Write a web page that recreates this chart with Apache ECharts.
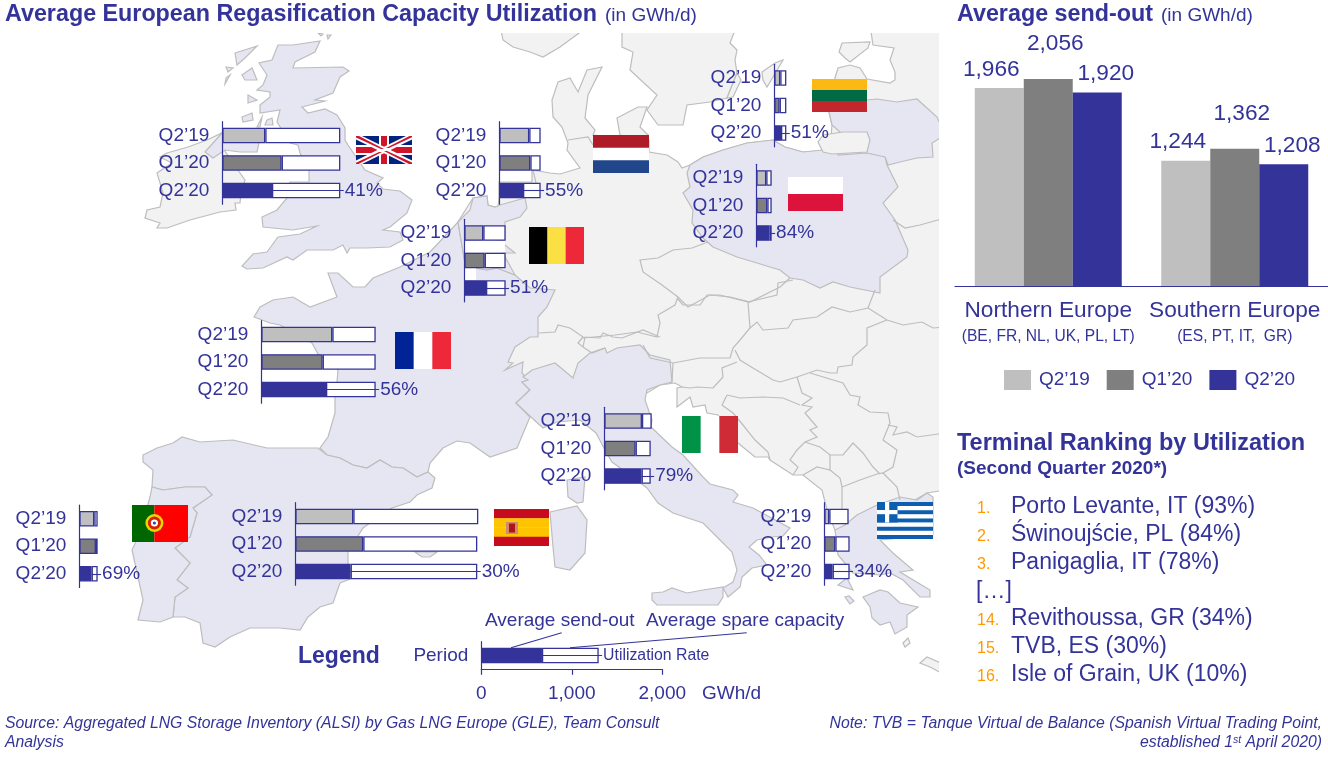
<!DOCTYPE html>
<html>
<head>
<meta charset="utf-8">
<title>Average European Regasification Capacity Utilization</title>
<script src="https://cdn.jsdelivr.net/npm/echarts@6/dist/echarts.min.js"></script>
<style>
html,body{margin:0;padding:0;background:#fff;}
#chart{width:1328px;height:759px;}
</style>
</head>
<body>
<div id="chart"></div>
<script>
// values, GWh/d
const quarters = ['Q2’19', 'Q1’20', 'Q2’20'];
const sendUK = [475, 656, 549], spareUK = [829, 648, 755];
const sendNL = [331, 343, 262], spareNL = [126, 114, 195];
const sendBE = [210, 225, 240], spareBE = [247, 232, 217];
const sendFR = [785, 678, 715], spareFR = [479, 586, 549];
const sendLT = [66, 59, 74], spareLT = [67, 74, 59];
const sendPL = [110, 122, 147], sparePL = [60, 48, 23];
const sendIT = [416, 346, 412], spareIT = [108, 167, 101];
const sendES = [641, 751, 611], spareES = [1381, 1260, 1400];
const sendPT = [166, 184, 136], sparePT = [37, 19, 67];
const sendGR = [55, 122, 92], spareGR = [214, 158, 188];
const sendKey = [670], spareKey = [627];
const keyTicks = [0, 1000, 2000];

const regions = ['Northern Europe', 'Southern Europe'];
const regionMembers = ['(BE, FR, NL, UK, PL, LT)', '(ES, PT, IT,  GR)'];
const sendQ219 = [1966, 1244];
const sendQ120 = [2056, 1362];
const sendQ220 = [1920, 1208];

const rankNumbers = ['1.', '2.', '3.', '14.', '15.', '16.'];
const rankNames = ['Porto Levante, IT (93%)', 'Świnoujście, PL (84%)', 'Panigaglia, IT (78%)',
    'Revithoussa, GR (34%)', 'TVB, ES (30%)', 'Isle of Grain, UK (10%)'];

const BLUE = '#333399', LIGHT = '#BFBFBF', MID = '#7F7F7F', ORANGE = '#FF9900';
const quarterColors = [LIGHT, MID, BLUE];
const FONT = '"Liberation Sans", Arial, sans-serif';
const PANEL_HEIGHT = 82.5, PANEL_WIDTH = 2100 * 0.0905;

const panels = [
    {id: 'UK', send: sendUK, spare: spareUK, rate: 41, left: 222.3, top: 121.7},
    {id: 'NL', send: sendNL, spare: spareNL, rate: 55, left: 499.3, top: 121.7},
    {id: 'BE', send: sendBE, spare: spareBE, rate: 51, left: 464.3, top: 219.3},
    {id: 'FR', send: sendFR, spare: spareFR, rate: 56, left: 261.3, top: 320.7},
    {id: 'LT', send: sendLT, spare: spareLT, rate: 51, left: 774.3, top: 64.3},
    {id: 'PL', send: sendPL, spare: sparePL, rate: 84, left: 756.3, top: 164.3},
    {id: 'IT', send: sendIT, spare: spareIT, rate: 79, left: 604.3, top: 407.3},
    {id: 'ES', send: sendES, spare: spareES, rate: 30, left: 295.3, top: 502.7},
    {id: 'PT', send: sendPT, spare: sparePT, rate: 69, left: 79.3, top: 505},
    {id: 'GR', send: sendGR, spare: spareGR, rate: 34, left: 824.3, top: 502.7}
];

// background map outlines, traced in page pixels
const GREY = '#F2F2F2', LAV = '#E6E6F2';
const landGrey = [
    '499,198 499,182 532,182 532,170 550,173 560,174 580,168 567,150 568,143 562,127 553,117 552,100 558,82 570,78 578,92 587,70 602,67 588,95 585,118 595,130 593,135 649,140 649,152 667,155 678,162 682,168 690,165 703,157 723,150 747,143 773,140 785,147 803,152 830,150 832,125 829,112 835,78 838,68 850,65 860,68 867,79 890,83 895,80 895,72 890,60 894,48 873,45 870,25 945,25 945,490 927,493 880,520 835,530 827,510 822,490 803,475 793,475 770,460 768,457 755,457 738,443 718,415 707,413 705,405 693,407 690,397 677,407 677,388 682,387 675,383 660,385 647,393 500,400 458,300 458,222 473,198 487,196 488,205 495,207 498,207',
    '500,25 503,40 513,47 530,52 543,57 560,47 590,25',
    '622,25 622,47 633,52 630,70 657,95 647,110 658,125 683,125 687,105 710,102 727,98 737,73 735,60 737,50 730,43 737,25',
    '762,72 775,63 783,60 773,77 767,87 763,80',
    '727,98 737,73 741,80 733,97',
    '839,52 842,43 870,42 868,48 850,62 845,58',
    '617,118 638,107 647,107 640,127 648,135 640,140 620,135',
    '188,147 207,140 222,133 225,151 240,173 245,180 241,193 240,203 235,203 236,210 220,212 190,220 167,228 157,228 160,223 145,218 147,210 160,207 163,193 157,173 172,163 160,157 167,153',
    '920,663 927,657 945,665 945,675 930,667',
    '903,643 908,638 910,643 905,647'
];
const landFocus = [
    '278,45 293,45 320,41 315,52 295,62 293,68 343,67 349,71 340,77 333,93 315,100 325,101 302,107 308,113 325,109 337,115 345,128 345,140 348,145 365,170 383,178 377,183 383,189 400,191 412,200 407,213 390,227 383,230 400,232 403,240 390,247 367,248 350,248 347,253 343,245 333,250 307,250 293,260 287,257 263,268 247,269 242,266 253,254 267,252 278,237 300,234 317,226 293,230 263,227 262,217 277,210 287,198 290,182 309,182 309,170 300,153 298,145 290,143 277,122 280,110 260,113 260,105 270,97 270,92 257,90 263,85 267,75 259,63 272,60',
    '318,33 323,34 321,36', '327,35 331,35 328,39',
    '205,152 222,133 259,143 257,152 240,152 225,150 213,158',
    '235,53 257,46 245,58 237,65',
    '226,67 233,68 228,72', '225,84 230,75 226,78',
    '242,75 252,68 257,80 245,80', '248,95 257,100 248,103',
    '242,117 252,113 253,120 243,122', '257,127 262,117 260,127', '267,120 272,118 273,125 265,125',
    '254,317 260,307 273,300 293,297 310,307 337,297 328,273 338,273 353,287 365,287 373,278 400,267 430,252 458,222 465,263 475,268 487,270 497,268 515,275 522,281 530,288 555,290 547,307 538,317 538,337 530,337 515,347 508,362 513,363 505,370 523,362 522,373 528,380 522,382 530,390 516,403 530,417 517,448 490,457 470,443 457,441 443,448 430,463 428,472 417,477 403,468 392,467 380,460 367,468 353,465 340,458 327,455 320,448 328,437 335,413 335,398 337,382 338,370 318,354 312,343 280,325 270,323',
    '458,222 470,210 473,198 487,196 488,205 495,207 500,205 525,198 527,208 520,217 505,222 505,240 498,241 505,245 515,253 503,253 515,275 497,268 487,270 475,268 465,263',
    '143,455 157,448 173,443 182,437 200,442 233,440 267,448 318,448 327,455 340,458 353,465 367,468 380,460 392,467 403,468 417,477 428,472 435,478 432,488 417,495 410,502 392,508 370,523 363,528 348,552 348,563 353,578 340,583 333,603 320,607 308,617 300,630 280,628 250,628 230,637 215,647 203,643 200,623 185,617 173,617 175,597 188,588 177,580 190,563 175,548 190,537 197,513 193,508 212,495 205,487 185,487 163,490 152,487 153,470 143,462',
    '152,487 163,490 185,487 205,487 212,495 193,508 197,513 190,537 175,548 190,563 177,580 188,588 175,597 173,617 160,622 138,620 143,600 138,577 132,550 140,533 150,497',
    '415,552 437,552 430,557 422,557',
    '567,480 585,477 583,502 577,503 568,497',
    '550,512 577,506 587,520 585,553 570,570 555,567 553,547',
    '516,403 530,390 522,382 528,380 523,377 532,370 555,363 573,378 578,363 590,353 605,348 607,353 617,348 640,345 650,355 670,360 672,382 660,385 647,390 645,400 652,420 651,427 672,447 683,455 703,477 710,484 733,490 738,495 733,502 753,508 790,528 783,536 772,537 757,540 749,547 759,555 767,565 752,568 742,577 740,587 728,597 723,588 733,582 737,570 732,552 717,537 703,523 673,513 658,503 647,488 630,475 612,462 605,450 596,433 580,420 557,422 543,428 532,418',
    '652,593 663,592 672,588 687,593 703,590 723,587 723,597 718,605 657,605 652,600',
    '690,165 703,157 723,150 747,143 773,140 785,147 803,152 823,150 867,153 885,156 887,165 898,187 883,203 895,220 908,250 907,257 880,277 880,293 850,287 833,282 820,288 803,280 790,278 780,270 770,267 757,263 737,257 713,247 703,238 692,223 693,210 683,193 690,187 687,173',
    '829,100 867,100 877,99 897,102 917,99 937,117 945,135 932,143 933,157 917,158 900,162 888,165 885,157 867,153 838,155 840,132 832,125 829,112',
    '857,515 877,505 900,497 917,500 927,493 933,497 933,535 880,540 893,553 913,570 900,572 930,590 930,597 920,597 903,580 890,573 880,575 853,573 838,555 835,530 845,525',
    '838,585 847,578 853,590', '845,597 849,596 854,601 850,604',
    '863,597 880,590 888,592 900,603 918,607 907,615 907,627 895,634 890,622 880,625 872,618 870,607'
];
const kaliningrad = ['818,142 823,135 843,132 867,132 870,140 867,152 832,154 823,152'];
const borders = [
    '533,170 536,183 530,190 525,198',
    '568,140 588,137 593,145',
    '708,242 692,248 673,250 658,258 640,260 643,272 662,285 678,297 688,307 710,295 730,297 750,302 780,287 790,278',
    '678,297 675,305 658,315 660,323 657,337 637,332 615,335 583,338',
    '539,333 555,332 558,325 570,328 583,337 600,338 603,333 613,337 622,338 643,330 660,337',
    '583,337 578,343 583,347 585,337', '583,347 592,353 605,348',
    '677,298 683,305 700,305 707,295 720,295 748,302 750,328 740,340 733,348 730,358 700,358 673,363 650,358 643,345',
    '748,302 777,295 778,283 793,280', '750,328 757,322 763,330 788,328 793,320 817,317 832,307 850,312 868,308 875,290',
    '868,308 887,320 903,325 922,322 933,328 945,327',
    '893,220 905,228 920,225 945,218',
    '887,320 867,328 867,345 853,357 852,365 838,367 837,373 830,373 817,370 797,377 780,382 773,380 753,368 740,360 735,350',
    '737,362 722,368 723,377 713,388 697,387 690,388 682,387', '673,363 672,382',
    '797,377 802,393 812,398 802,405 812,407 805,413 817,427 810,430 817,437 805,442 797,450 790,460 798,467 793,475',
    '727,395 722,405 733,413 743,425 755,440 768,452 770,460', '727,395 740,398 763,397 783,398 800,405',
    '805,442 820,447 830,455 843,455 853,443 863,453 873,467 880,474', '830,455 830,470 817,467 803,475',
    '830,470 840,478 842,487 860,480 877,474 883,473 897,487 900,500', '842,487 842,510 845,525',
    '810,373 843,383 850,395 860,397 858,405 870,412 888,413 890,423 883,440 897,450 893,467 883,473',
    '888,425 897,427 893,435 907,432 917,437 945,433'
];
// crops the map at its frame and the white patch behind the Belgian bars
const whiteBoxes = [[0, 0, 960, 33], [939, 0, 30, 700], [464, 241, 41, 11], [464, 268, 12, 12]];

function mapSvg() {
    const stroke = ' stroke="#BDBDBD" stroke-width="1.2"';
    let s = '<svg xmlns="http://www.w3.org/2000/svg" width="1328" height="759" viewBox="0 0 1328 759">';
    landGrey.forEach(p => { s += '<polygon fill="' + GREY + '"' + stroke + ' points="' + p + '"/>'; });
    landFocus.forEach(p => { s += '<polygon fill="' + LAV + '"' + stroke + ' points="' + p + '"/>'; });
    kaliningrad.forEach(p => { s += '<polygon fill="' + GREY + '"' + stroke + ' points="' + p + '"/>'; });
    borders.forEach(p => { s += '<polyline fill="none"' + stroke + ' points="' + p + '"/>'; });
    whiteBoxes.forEach(b => { s += '<rect fill="#FFFFFF" x="' + b[0] + '" y="' + b[1] + '" width="' + b[2] + '" height="' + b[3] + '"/>'; });
    return s + '</svg>';
}
echarts.registerMap('europe', {svg: mapSvg()});

const grids = [], xAxes = [], yAxes = [], series = [];

function barPanel(name, cats, send, spare, rateText, left, top, width, height, max, showX, labelSize) {
    const idx = grids.length;
    grids.push({left: left, top: top, width: width, height: height, containLabel: false});
    xAxes.push({
        type: 'value', gridIndex: idx, min: 0, max: max, show: showX, interval: showX ? keyTicks[1] : undefined,
        splitLine: {show: false}, z: 5,
        axisLine: {show: true, lineStyle: {color: BLUE, width: 1.2}},
        axisTick: {show: true, inside: false, length: 5.5, lineStyle: {color: BLUE, width: 1.2}},
        axisLabel: {show: true, color: BLUE, fontFamily: FONT, fontSize: 19, margin: 15,
            formatter: v => v.toLocaleString('en-US')}
    });
    yAxes.push({
        type: 'category', gridIndex: idx, data: cats, inverse: true, z: 5,
        axisLine: {show: true, lineStyle: {color: BLUE, width: 1.2}},
        axisTick: {show: false},
        axisLabel: {color: BLUE, fontFamily: FONT, fontSize: 19, margin: 13, interval: 0, padding: [2, 0, 0, 0]}
    });
    const last = cats.length - 1;
    series.push({
        name: name + ' send-out', type: 'bar', stack: name, xAxisIndex: idx, yAxisIndex: idx, barWidth: 15.5,
        itemStyle: {borderColor: BLUE, borderWidth: 1.3},
        data: send.map((v, i) => ({value: v, itemStyle: {color: cats.length > 1 ? quarterColors[i] : BLUE}}))
    });
    series.push({
        name: name + ' spare', type: 'bar', stack: name, xAxisIndex: idx, yAxisIndex: idx, barWidth: 15.5,
        itemStyle: {color: '#FFFFFF', borderColor: BLUE, borderWidth: 1.3},
        data: spare,
        markLine: {
            silent: true, symbol: 'none', animation: false,
            lineStyle: {color: BLUE, width: 1.1, type: 'solid'},
            label: {show: true, position: 'end', distance: 1, formatter: rateText, color: BLUE,
                fontFamily: FONT, fontSize: labelSize, padding: [2, 0, 0, 0]},
            emphasis: {disabled: true},
            data: [[{coord: [send[last], cats[last]]}, {coord: [send[last] + spare[last] + 38, cats[last]]}]]
        }
    });
}

panels.forEach(p => barPanel(p.id, quarters, p.send, p.spare, p.rate + '%', p.left, p.top, PANEL_WIDTH, PANEL_HEIGHT, 2100, false, 19));
barPanel('Key', ['Period'], sendKey, spareKey, 'Utilization Rate', 481.3, 641.7, 181, 27.6, 2000, true, 15.8);

// regional send-out columns
const colIdx = grids.length;
grids.push({left: 955, top: 34.2, width: 374, height: 251.8});
xAxes.push({
    type: 'category', gridIndex: colIdx, data: regions,
    axisLine: {lineStyle: {color: BLUE, width: 1.2}}, axisTick: {show: false},
    axisLabel: {
        interval: 0, margin: 12,
        formatter: (v, i) => '{a|' + v + '}\n{b|' + regionMembers[i] + '}',
        rich: {
            a: {color: BLUE, fontFamily: FONT, fontSize: 22.67, lineHeight: 26},
            b: {color: BLUE, fontFamily: FONT, fontSize: 15.6, lineHeight: 26}
        }
    }
});
yAxes.push({type: 'value', gridIndex: colIdx, min: 0, max: 2500, show: false, splitLine: {show: false}});
[[quarters[0], sendQ219, [-8, 0]], [quarters[1], sendQ120, [7, -17]], [quarters[2], sendQ220, [8.5, 0]]].forEach((c, i) => {
    series.push({
        name: c[0], type: 'bar', xAxisIndex: colIdx, yAxisIndex: colIdx, barWidth: 49, barGap: 0,
        itemStyle: {color: quarterColors[i]}, data: c[1],
        label: {show: true, position: 'top', distance: 7, offset: c[2], color: BLUE, fontFamily: FONT, fontSize: 22.67,
            formatter: p => p.value.toLocaleString('en-US')}
    });
});

// drawing helpers for text and flags
const gfx = [];
function txt(x, y, text, size, opt) {
    opt = opt || {};
    gfx.push({
        type: 'text', z: 10, silent: true,
        style: {
            x: x, y: y + 2, text: text, fill: opt.color || BLUE,
            font: (opt.italic ? 'italic ' : '') + (opt.bold ? 'bold ' : '') + size + 'px ' + FONT,
            textAlign: opt.align || 'left', textVerticalAlign: 'middle', rich: opt.rich
        }
    });
}
function box(x, y, w, h, fill) {
    gfx.push({type: 'rect', z: 8, silent: true, shape: {x: x, y: y, width: w, height: h}, style: {fill: fill}});
}
function poly(points, fill) {
    gfx.push({type: 'polygon', z: 9, silent: true, shape: {points: points}, style: {fill: fill}});
}
function line(x1, y1, x2, y2) {
    gfx.push({type: 'line', z: 9, silent: true, shape: {x1: x1, y1: y1, x2: x2, y2: y2}, style: {stroke: BLUE, lineWidth: 1.1}});
}
function disc(cx, cy, r, fill) {
    gfx.push({type: 'circle', z: 9, silent: true, shape: {cx: cx, cy: cy, r: r}, style: {fill: fill}});
}
function vFlag(x, y, w, h, cols) {
    cols.forEach((c, i) => box(x + i * w / cols.length, y, w / cols.length + (i < cols.length - 1 ? 0.3 : 0), h, c));
}
function hFlag(x, y, w, h, cols) {
    cols.forEach((c, i) => box(x, y + i * h / cols.length, w, h / cols.length + (i < cols.length - 1 ? 0.3 : 0), c));
}

vFlag(395, 332, 56, 37, ['#002395', '#FFFFFF', '#ED2939']);
vFlag(529, 227, 55, 37, ['#000000', '#FAE042', '#ED2939']);
vFlag(682, 416, 56, 37, ['#009246', '#FFFFFF', '#CE2B37']);
hFlag(593, 135, 56, 38, ['#AE1C28', '#FFFFFF', '#21468B']);
hFlag(812, 79, 55, 33, ['#FDB913', '#006A44', '#C1272D']);
hFlag(788, 177, 55, 34, ['#FFFFFF', '#DC143C']);

// Spain
hFlag(494, 509, 55, 37, ['#C60B1E', '#FFC400', '#FFC400', '#C60B1E']);
box(506, 522, 12, 12, '#D08A70');
box(509, 523.5, 6, 9, '#AD1519');
// Portugal
box(132, 505, 22.4, 37, '#006600');
box(154.4, 505, 33.6, 37, '#FF0000');
disc(154.4, 523, 9, '#E8D800');
disc(154.4, 523, 6.5, '#D81E05');
disc(154.4, 523, 3.6, '#FFFFFF');
disc(154.4, 523, 1.6, '#2A4FA8');
// Greece
hFlag(877, 502, 56, 37, ['#0D5EAF', '#FFFFFF', '#0D5EAF', '#FFFFFF', '#0D5EAF', '#FFFFFF', '#0D5EAF', '#FFFFFF', '#0D5EAF']);
box(877, 502, 20.5, 20.5, '#0D5EAF');
box(885, 502, 4.2, 20.5, '#FFFFFF');
box(877, 510, 20.5, 4.2, '#FFFFFF');
// Union Jack
box(356, 136, 56, 28, '#00247D');
poly([[356, 136], [362, 136], [412, 160.5], [412, 164], [406, 164], [356, 139.5]], '#FFFFFF');
poly([[412, 136], [406, 136], [356, 160.5], [356, 164], [362, 164], [412, 139.5]], '#FFFFFF');
poly([[356, 136], [359, 136], [384, 149], [381, 149], [356, 137.6]], '#CF142B');
poly([[412, 164], [409, 164], [384, 151], [387, 151], [412, 162.4]], '#CF142B');
poly([[412, 136], [409.5, 136], [386, 148], [389, 148], [412, 137.3]], '#CF142B');
poly([[356, 164], [358.5, 164], [382, 152], [379, 152], [356, 162.7]], '#CF142B');
box(356, 145, 56, 10, '#FFFFFF');
box(379, 136, 10, 28, '#FFFFFF');
box(356, 147, 56, 6, '#CF142B');
box(381, 136, 6, 28, '#CF142B');

// key leader lines
line(561.7, 632.7, 511, 647.7);
line(746.7, 632.7, 570, 647.7);

txt(5, 13, 'Average European Regasification Capacity Utilization', 23.3, {bold: true});
txt(605, 14, '(in GWh/d)', 19);
txt(957, 13, 'Average send-out', 23.3, {bold: true});
txt(1161, 14, '(in GWh/d)', 19);
txt(957, 442, 'Terminal Ranking by Utilization', 23.5, {bold: true});
txt(957, 467, '(Second Quarter 2020*)', 19, {bold: true});
txt(298, 655, 'Legend', 23, {bold: true});
txt(485, 619, 'Average send-out', 19);
txt(646, 619, 'Average spare capacity', 19);
txt(702, 692, 'GWh/d', 19);

const rankY = [505, 533, 561, 617, 645, 673];
rankNumbers.forEach((n, i) => {
    txt(977, rankY[i] + 2, n, 16, {color: ORANGE});
    txt(1011, rankY[i], rankNames[i], 23);
});
txt(976, 590, '[…]', 23);

txt(5, 722, 'Source: Aggregated LNG Storage Inventory (ALSI) by Gas LNG Europe (GLE), Team Consult', 15.8, {italic: true});
txt(5, 741, 'Analysis', 15.8, {italic: true});
txt(1322, 722, 'Note: TVB = Tanque Virtual de Balance (Spanish Virtual Trading Point,', 15.8, {italic: true, align: 'right'});
txt(1322, 741, '{a|established 1}{s|st}{a| April 2020)}', 15.8, {
    italic: true, align: 'right',
    rich: {
        a: {fill: BLUE, font: 'italic 15.8px ' + FONT},
        s: {fill: BLUE, font: 'italic 10.5px ' + FONT, verticalAlign: 'top', padding: [0, 0, 5, 0]}
    }
});

const chart = echarts.init(document.getElementById('chart'));
chart.setOption({
    animation: false,
    backgroundColor: '#FFFFFF',
    geo: {map: 'europe', left: 0, top: 0, width: 1328, height: 759, aspectScale: 1, roam: false, silent: true, z: 0},
    legend: {
        data: quarters, left: 999, top: 365, itemWidth: 27, itemHeight: 20, itemGap: 17, icon: 'rect', selectedMode: false,
        textStyle: {color: BLUE, fontFamily: FONT, fontSize: 19, padding: [0, 0, 0, 3]}
    },
    grid: grids,
    xAxis: xAxes,
    yAxis: yAxes,
    series: series,
    graphic: gfx
});
</script>
</body>
</html>
